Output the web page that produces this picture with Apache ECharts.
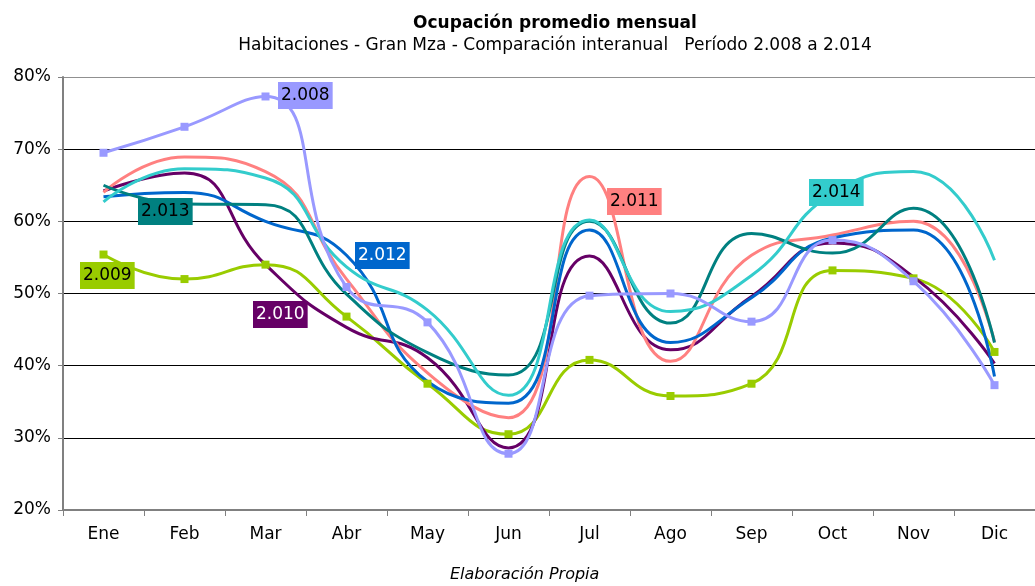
<!DOCTYPE html>
<html>
<head>
<meta charset="utf-8">
<script src="https://cdn.jsdelivr.net/npm/echarts@6/dist/echarts.min.js"></script>
<style>
html, body { margin: 0; padding: 0; background: #fff; }
#chart { width: 1035px; height: 586px; }
</style>
</head>
<body>
<div id="chart"></div>
<script>
var months = ['Ene', 'Feb', 'Mar', 'Abr', 'May', 'Jun', 'Jul', 'Ago', 'Sep', 'Oct', 'Nov', 'Dic'];
var y2008 = [69.5, 73.1, 77.3, 50.9, 46.0, 27.8, 49.7, 50.0, 46.1, 57.4, 51.7, 37.3];
var y2009 = [55.4, 52.0, 54.0, 46.8, 37.5, 30.5, 40.8, 35.8, 37.5, 53.2, 52.1, 41.9];
var y2010 = [64.2, 66.7, 54.0, 45.3, 41.1, 28.6, 55.2, 42.2, 49.6, 57.0, 52.3, 40.3];
var y2011 = [64.0, 68.9, 66.9, 52.0, 39.0, 32.8, 66.2, 40.6, 55.3, 58.1, 60.0, 43.3];
var y2012 = [63.4, 64.0, 60.0, 55.3, 37.8, 34.8, 58.8, 43.2, 49.4, 57.7, 58.8, 38.5];
var y2013 = [65.0, 62.4, 62.3, 49.9, 41.8, 38.7, 60.0, 45.9, 58.3, 55.6, 61.8, 43.2];
var y2014 = [62.7, 67.3, 66.0, 53.7, 47.7, 35.9, 60.2, 47.5, 52.5, 63.9, 66.9, 54.6];
var yTicks = [20, 30, 40, 50, 60, 70, 80];

var font = 'Verdana, "DejaVu Sans", sans-serif';

function line(name, data, color, marker) {
    return {
        name: name,
        type: 'line',
        data: data,
        smooth: 0.5,
        symbol: marker ? 'rect' : 'none',
        symbolSize: 8,
        showSymbol: marker,
        itemStyle: { color: color },
        lineStyle: { color: color, width: 3 }
    };
}

function tag(text, x, y, bg, fg) {
    return {
        type: 'text',
        left: x,
        top: y,
        z: 100,
        style: {
            text: text,
            font: '17px ' + font,
            fill: fg,
            backgroundColor: bg,
            padding: [5, 3, 5, 3]
        }
    };
}

var myChart = echarts.init(document.getElementById('chart'));
var option = {
    animation: false,
    backgroundColor: '#fff',
    title: {
        text: 'Ocupación promedio mensual',
        subtext: 'Habitaciones - Gran Mza - Comparación interanual   Período 2.008 a 2.014',
        left: 550,
        textAlign: 'center',
        top: 10,
        itemGap: 5,
        textStyle: { fontFamily: font, fontSize: 17, fontWeight: 'bold', color: '#000' },
        subtextStyle: { fontFamily: font, fontSize: 17, color: '#000' }
    },
    grid: { left: 63, top: 77, width: 982, height: 433 },
    xAxis: {
        type: 'category',
        data: months,
        boundaryGap: true,
        axisLine: { lineStyle: { color: '#808080', width: 2 } },
        axisTick: { show: true, length: 6, lineStyle: { color: '#808080' } },
        axisLabel: { fontFamily: font, fontSize: 17, color: '#000', margin: 16 }
    },
    yAxis: {
        type: 'value',
        min: yTicks[0],
        max: yTicks[yTicks.length - 1],
        interval: 10,
        axisLine: { show: true, lineStyle: { color: '#808080', width: 2 } },
        axisTick: { show: true, length: 5, lineStyle: { color: '#808080' } },
        axisLabel: { fontFamily: font, fontSize: 17, color: '#000', margin: 12, formatter: '{value}%' },
        splitLine: { lineStyle: { color: ['#808080', '#000', '#000', '#000', '#000', '#000', '#909090'], width: 1 } }
    },
    series: [
        line('2.009', y2009, '#99CC00', true),
        line('2.010', y2010, '#660066', false),
        line('2.011', y2011, '#FF8080', false),
        line('2.012', y2012, '#0066CC', false),
        line('2.013', y2013, '#008080', false),
        line('2.014', y2014, '#33CCCC', false),
        line('2.008', y2008, '#9999FF', true)
    ],
    graphic: [
        tag('2.008', 278, 82, '#9999FF', '#000'),
        tag('2.009', 80, 262, '#99CC00', '#000'),
        tag('2.010', 253, 301, '#660066', '#fff'),
        tag('2.011', 607, 188, '#FF8080', '#000'),
        tag('2.012', 355, 242, '#0066CC', '#fff'),
        tag('2.013', 138, 198, '#008080', '#000'),
        tag('2.014', 809, 179, '#33CCCC', '#000'),
        {
            type: 'text',
            left: 450,
            top: 567,
            style: { text: 'Elaboración Propia', font: 'italic 16px ' + font, fill: '#000' }
        }
    ]
};
myChart.setOption(option);
window.onresize = function () {
    myChart.resize();
};
</script>
</body>
</html>
